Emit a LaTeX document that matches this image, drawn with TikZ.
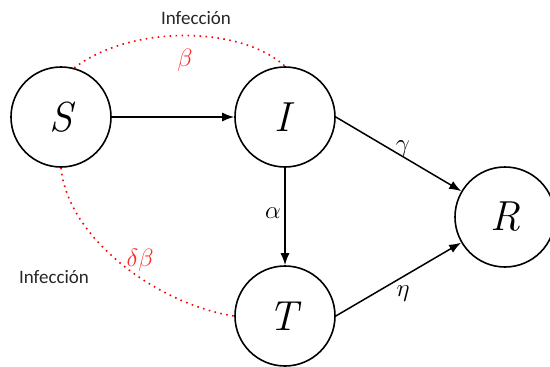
\RequirePackage{fix-cm}
\documentclass[tikz,border=0pt]{standalone}
\usepackage[no-math]{fontspec}
\newfontfamily\calib{Carlito}
\usetikzlibrary{arrows.meta}
\tikzset{
  state/.style={circle,draw=black,line width=1.6pt,minimum size=100pt,inner sep=0pt,font=\fontsize{42}{48}\selectfont\itshape},
  flow/.style={line width=1.5pt,-{Latex[length=12pt,width=9pt]}},
  infect/.style={red,line width=1.6pt,dash pattern=on 1.6pt off 4.4pt},
  rate/.style={inner sep=0pt,font=\fontsize{25}{30}\selectfont},
  redrate/.style={rate,text=red!85!white},
  lbl/.style={inner sep=0pt,text=black!85,font=\calib\fontsize{19}{23}\selectfont}
}
\begin{document}
\begin{tikzpicture}[x=1pt,y=-1pt]
\useasboundingbox (0,0) rectangle (550,367);
\node[state] (S) at (61,117) {S};
\node[state] (I) at (285,117) {I\/};
\node[state] (T) at (285,316) {T\/};
\node[state] (R) at (505,217) {R};
\draw[flow] (S) -- (I);
\draw[flow] (I) -- (T);
\draw[flow] (I.east) -- (R);
\draw[flow] (T.east) -- (R);
\draw[infect] (S.75) .. controls (130,25) and (240,25) .. (I.north);
\draw[infect] (S.south) .. controls (68,240) and (160,305) .. (T.west);
\node[lbl] (inf1) at (196,18) {Infección};
\node[lbl] (inf2) at (54,277) {Infección};
\node[redrate] (b) at (185,60) {$\beta$};
\node[redrate] (db) at (140,260) {$\delta\beta$};
\node[rate] (g) at (403,149) {$\gamma$};
\node[rate] (a) at (273,213) {$\alpha$};
\node[rate] (e) at (403,294) {$\eta$};
\end{tikzpicture}
\end{document}
